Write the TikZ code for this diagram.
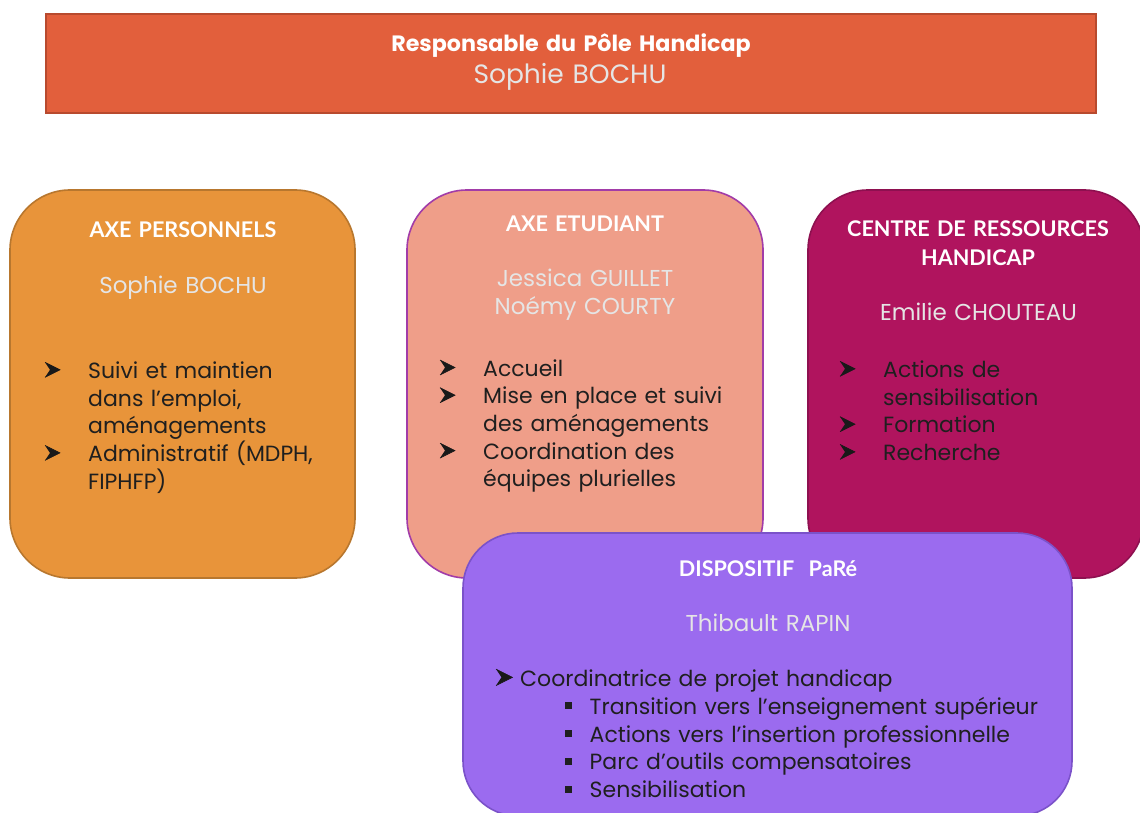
\documentclass[tikz,border=0pt]{standalone}
\usepackage{fontspec}
\setmainfont{Poppins}
\newfontfamily\titrefont{Lato}
\usetikzlibrary{positioning}

\definecolor{poleRed}{HTML}{E25F3C}
\definecolor{poleRedLine}{HTML}{B84A2E}
\definecolor{persoFill}{HTML}{E8943A}
\definecolor{persoLine}{HTML}{B8772E}
\definecolor{etuFill}{HTML}{EF9E89}
\definecolor{etuLine}{HTML}{A23CA8}
\definecolor{crhFill}{HTML}{B0145E}
\definecolor{crhLine}{HTML}{8E1050}
\definecolor{pareFill}{HTML}{9B6BEF}
\definecolor{pareLine}{HTML}{7B52C9}

\newcommand{\carre}{\makebox[24.5pt][l]{\rule[5pt]{6.5pt}{7pt}}}

\tikzset{
  axebox/.style={draw, line width=1.6pt, rounded corners=60pt, inner sep=0pt},
  headtext/.style={text=white, font=\titrefont\bfseries\fontsize{21.6}{28.3}\selectfont,
    align=center, text width=320pt, anchor=base, inner sep=0pt},
  nametext/.style={text=white!90!black, font=\fontsize{23}{27.4}\selectfont,
    align=center, text width=320pt, anchor=base, inner sep=0pt},
  listtext/.style={text=black!88, font=\fontsize{22}{27.7}\selectfont,
    align=left, anchor=base west, inner sep=0pt, text width=#1},
  puce/.pic={
    \fill[black!90] (0,-16) -- (15,-8.5) -- (0,-1) -- (5,-8.5) -- cycle;
    \draw[black!90, line width=0.6pt] (0,-16) -- (15,-8.5) -- (0,-1);
  },
}

\begin{document}
\begin{tikzpicture}[x=1pt, y=-1pt]
  \useasboundingbox (0,0) rectangle (1140,813);

  % Responsable du pole
  \node[draw=poleRedLine, fill=poleRed, line width=1.6pt, inner sep=0pt,
        minimum width=1050pt, minimum height=99pt] (pole) at (571,63.5) {};
  \node[headtext, text width=600pt, font=\bfseries\fontsize{22.2}{26}\selectfont]
        (pole-titre) at (571,51.7) {Responsable du Pôle Handicap};
  \node[nametext, font=\fontsize{26.5}{30}\selectfont] (pole-nom) at (570,83.3) {Sophie BOCHU};

  % Axe personnels
  \node[axebox, draw=persoLine, fill=persoFill, minimum width=345pt, minimum height=388pt]
        (perso) at (182.5,384) {};
  \node[headtext] (perso-titre) at (183,237) {AXE PERSONNELS};
  \node[nametext] (perso-nom) at (183,293.3) {Sophie BOCHU};
  \node[listtext=260pt] (perso-liste) at (88,378.3)
        {Suivi et maintien\\ dans l’emploi,\\ aménagements\\ Administratif (MDPH,\\ FIPHFP)};
  \foreach \y in {378.3,461.4} \pic at (45,\y) {puce};

  % Axe etudiant
  \node[axebox, draw=etuLine, fill=etuFill, minimum width=356pt, minimum height=388pt]
        (etu) at (585,384) {};
  \node[headtext] (etu-titre) at (585,231.7) {AXE ETUDIANT};
  \node[nametext] (etu-noms) at (585,286.7) {Jessica GUILLET\\ Noémy COURTY};
  \node[listtext=270pt] (etu-liste) at (483,376)
        {Accueil\\ Mise en place et suivi\\ des aménagements\\ Coordination des\\ équipes plurielles};
  \foreach \y in {376,403.7,459.1} \pic at (440,\y) {puce};

  % Centre de ressources
  \node[axebox, draw=crhLine, fill=crhFill, minimum width=336pt, minimum height=388pt]
        (crh) at (976,384) {};
  \node[headtext] (crh-titre) at (978,236.7) {CENTRE DE RESSOURCES\\ HANDICAP};
  \node[nametext] (crh-nom) at (978.5,320) {Emilie CHOUTEAU};
  \node[listtext=240pt] (crh-liste) at (883,377.3)
        {Actions de\\ sensibilisation\\ Formation\\ Recherche};
  \foreach \y in {377.3,432.7,460.4} \pic at (840,\y) {puce};

  % Dispositif PaRe
  \node[axebox, draw=pareLine, fill=pareFill, rounded corners=55pt,
        minimum width=609pt, minimum height=283pt] (pare) at (767.5,674.5) {};
  \node[headtext] (pare-titre) at (768,576.7) {DISPOSITIF\ \ PaRé};
  \node[nametext] (pare-nom) at (768,631.7) {Thibault RAPIN};
  \node[listtext=545pt] (pare-liste) at (520,686.7)
        {Coordinatrice de projet handicap\\
         \hspace*{45pt}\carre Transition vers l’enseignement supérieur\\
         \hspace*{45pt}\carre Actions vers l’insertion professionnelle\\
         \hspace*{45pt}\carre Parc d’outils compensatoires\\
         \hspace*{45pt}\carre Sensibilisation};
  \pic[scale=1.1] at (496,686.7) {puce};
\end{tikzpicture}
\end{document}
